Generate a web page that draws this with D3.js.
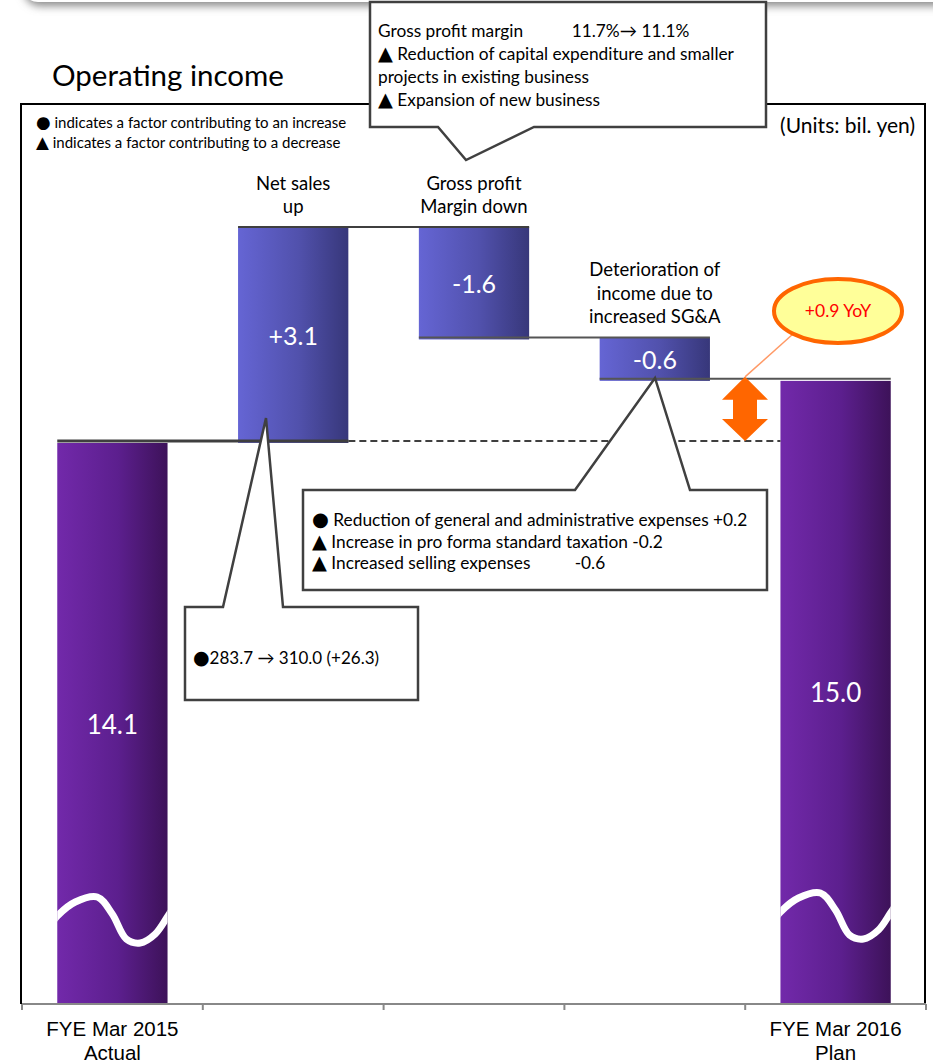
<!DOCTYPE html>
<html>
<head>
<meta charset="utf-8">
<script src="https://cdn.jsdelivr.net/npm/d3@7"></script>
<style>
  body { margin: 0; background: #fff; }
  text { font-family: Lato, 'Open Sans', sans-serif; }
  .sym { font-family: 'DejaVu Sans', sans-serif; }
</style>
</head>
<body>
<div id="grafico"></div>
<script>
const width = 933
const height = 1063

// data
const categories = ['FYE Mar 2015|Actual', 'Net sales|up', 'Gross profit|Margin down', 'Deterioration of|income due to|increased SG&A', 'FYE Mar 2016|Plan']
const values = [14.1, 3.1, -1.6, -0.6, 15.0]
const valueLabels = ['14.1', '+3.1', '-1.6', '-0.6', '15.0']
const isTotal = [true, false, false, false, true]

const legendLines = ['● indicates a factor contributing to an increase', '▲ indicates a factor contributing to a decrease']
const grossNotes = ['Gross profit margin           11.7%→ 11.1%', '▲ Reduction of capital expenditure and smaller', 'projects in existing business', '▲ Expansion of new business']
const salesNotes = ['●283.7 → 310.0 (+26.3)']
const sgaNotes = ['● Reduction of general and administrative expenses +0.2', '▲ Increase in pro forma standard taxation -0.2', '▲ Increased selling expenses          -0.6']
const yoyLabel = '+0.9 YoY'

// waterfall steps
let running = 0
const bars = values.map((v, i) => {
    let start, end
    if (isTotal[i]) { start = null; end = v; running = v }
    else { start = running; end = running + v; running = end }
    return { name: categories[i], value: v, label: valueLabels[i], total: isTotal[i], start: start, end: end, i: i }
})

const axisY = 1004
const x = d3.scaleBand()
            .domain(categories)
            .range([22, 926])
            .paddingInner(0.39)
            .paddingOuter(0.195)

const y = d3.scaleLinear()
            .domain([values[0], d3.max(bars, d => Math.max(d.end, d.start || 0))])
            .range([441, 227])

const svg = d3.select('#grafico').append('svg')
              .attr('width', width)
              .attr('height', height)

const defs = svg.append('defs')
const gradStep = defs.append('linearGradient').attr('id', 'gStep')
gradStep.append('stop').attr('offset', '0%').attr('stop-color', '#6565d4')
gradStep.append('stop').attr('offset', '55%').attr('stop-color', '#5151ac')
gradStep.append('stop').attr('offset', '100%').attr('stop-color', '#37377a')
const gradTotal = defs.append('linearGradient').attr('id', 'gTotal')
gradTotal.append('stop').attr('offset', '0%').attr('stop-color', '#7229aa')
gradTotal.append('stop').attr('offset', '55%').attr('stop-color', '#5c1f8e')
gradTotal.append('stop').attr('offset', '100%').attr('stop-color', '#3d1259')
const blur = defs.append('filter').attr('id', 'blur').attr('x', '-10%').attr('y', '-50%').attr('width', '120%').attr('height', '200%')
blur.append('feGaussianBlur').attr('stdDeviation', 4)
defs.selectAll('clipPath')
    .data(bars.filter(d => d.total))
    .enter()
    .append('clipPath')
    .attr('id', d => 'clip' + d.i)
    .append('rect')
    .attr('x', d => x(d.name))
    .attr('y', d => y(d.end))
    .attr('width', x.bandwidth())
    .attr('height', d => axisY - y(d.end))

// writes a line, the leading ● / ▲ in a bigger symbol font
function symLine(sel, s, fs) {
    const first = s.charAt(0)
    if (first === '●' || first === '▲') {
        sel.append('tspan').attr('class', 'sym').style('font-size', (fs * 1.12) + 'px').text(first)
        sel.append('tspan').text(s.slice(1))
    } else {
        sel.text(s)
    }
}

// header shadow at the very top
svg.append('rect')
   .attr('x', 24).attr('y', -40)
   .attr('width', 960).attr('height', 46)
   .attr('rx', 16)
   .attr('fill', '#8a8a8a')
   .attr('filter', 'url(#blur)')
svg.append('rect')
   .attr('x', 22).attr('y', -50)
   .attr('width', 960).attr('height', 52)
   .attr('rx', 16)
   .attr('fill', '#fff')

svg.append('text')
   .attr('x', 52).attr('y', 86)
   .style('font-size', '29.5px')
   .text('Operating income')

// frame
svg.append('path')
   .attr('d', `M21,${axisY} V104 H925 V${axisY}`)
   .attr('fill', 'none')
   .attr('stroke', '#000')
   .attr('stroke-width', 2)

svg.append('g')
   .selectAll('text')
   .data(legendLines)
   .enter()
   .append('text')
   .attr('x', 36)
   .attr('y', (d, i) => 128 + i * 20)
   .style('font-size', '15px')
   .attr('xml:space', 'preserve')
   .each(function(d) { symLine(d3.select(this), d, 15) })

svg.append('text')
   .attr('x', 915).attr('y', 133)
   .attr('text-anchor', 'end')
   .style('font-size', '21px')
   .text('(Units: bil. yen)')

// bars
const bar = svg.append('g')
               .selectAll('g')
               .data(bars)
               .enter()
               .append('g')

bar.append('rect')
   .attr('x', d => x(d.name))
   .attr('y', d => d.total ? y(d.end) + 2 : y(Math.max(d.start, d.end)))
   .attr('width', x.bandwidth())
   .attr('height', d => d.total ? axisY - y(d.end) - 2 : Math.abs(y(d.start) - y(d.end)) + 2)
   .style('fill', d => d.total ? 'url(#gTotal)' : 'url(#gStep)')

// axis break waves
const wave = d3.line().curve(d3.curveCatmullRom)
const wavePts = [[-6, 27], [0, 19], [18, 5], [40, 0], [55, 17], [69, 42], [83, 46], [98, 37], [110, 20], [116, 11]]
bar.filter(d => d.total)
   .append('path')
   .attr('clip-path', d => `url(#clip${d.i})`)
   .attr('d', d => wave(wavePts.map(p => [x(d.name) + p[0], axisY - 107 - (d.i ? 4 : 0) + p[1]])))
   .attr('fill', 'none')
   .attr('stroke', '#fff')
   .attr('stroke-width', 7)

bar.append('text')
   .attr('x', d => x(d.name) + x.bandwidth() / 2)
   .attr('y', d => d.total ? (y(d.end) + axisY) / 2 + 11 : (y(d.start) + y(d.end)) / 2 + 11)
   .attr('text-anchor', 'middle')
   .style('fill', '#fff')
   .style('font-size', d => d.total ? '26px' : '25px')
   .text(d => d.label)

// step labels above the bars
bar.filter(d => !d.total)
   .append('text')
   .attr('text-anchor', 'middle')
   .style('font-size', '18.5px')
   .selectAll('tspan')
   .data(d => d.name.split('|').map((s, k, arr) => ({ s: s, k: k, n: arr.length, d: d })))
   .enter()
   .append('tspan')
   .attr('x', t => x(t.d.name) + x.bandwidth() / 2)
   .attr('y', t => y(Math.max(t.d.start, t.d.end)) - 14 - (t.n - 1 - t.k) * 23.5)
   .text(t => t.s)

// connectors
const conn = bars.slice(0, -1).map((d, i) => ({ from: d, to: bars[i + 1], level: d.end }))
svg.append('g')
   .selectAll('line')
   .data(conn)
   .enter()
   .append('line')
   .attr('x1', d => x(d.from.name))
   .attr('x2', d => x(d.to.name) + x.bandwidth())
   .attr('y1', d => y(d.level))
   .attr('y2', d => y(d.level))
   .attr('stroke', (d, i) => i === 0 || i === 1 ? '#3f3f3f' : '#555')
   .attr('stroke-width', (d, i) => i === 0 ? 3 : 2)

svg.append('line')
   .attr('x1', x(categories[1]) + x.bandwidth())
   .attr('x2', x(categories[4]))
   .attr('y1', y(values[0]))
   .attr('y2', y(values[0]))
   .attr('stroke', '#3f3f3f')
   .attr('stroke-width', 2)
   .attr('stroke-dasharray', '7,4')

// axis
const ticks = d3.range(categories.length + 1).map(k => 22 + k * x.step())
svg.append('line')
   .attr('x1', 22).attr('x2', 926)
   .attr('y1', axisY).attr('y2', axisY)
   .attr('stroke', '#888')
   .attr('stroke-width', 2)
svg.append('g')
   .selectAll('line')
   .data(ticks)
   .enter()
   .append('line')
   .attr('x1', d => d).attr('x2', d => d)
   .attr('y1', axisY).attr('y2', axisY + 6)
   .attr('stroke', '#888')
   .attr('stroke-width', 2)

svg.append('g')
   .selectAll('text')
   .data(bars.filter(d => d.total))
   .enter()
   .append('text')
   .attr('text-anchor', 'middle')
   .style('font-family', "'Liberation Sans', Arial, sans-serif")
   .style('font-size', '20.5px')
   .selectAll('tspan')
   .data(d => d.name.split('|').map((s, k) => ({ s: s, k: k, d: d })))
   .enter()
   .append('tspan')
   .attr('x', t => x(t.d.name) + x.bandwidth() / 2)
   .attr('y', t => axisY + 32 + t.k * 24)
   .text(t => t.s)

// YoY marker: double arrow between the two totals
const ax = 745
const yTop = y(values[4]) - 2
const yBot = y(values[0])
svg.append('path')
   .attr('d', `M${ax},${yTop} L${ax + 23},${yTop + 23} H${ax + 12} V${yBot - 22} H${ax + 23} L${ax},${yBot} L${ax - 23},${yBot - 22} H${ax - 12} V${yTop + 23} H${ax - 23} Z`)
   .attr('fill', '#ff6600')

svg.append('line')
   .attr('x1', ax).attr('y1', yTop)
   .attr('x2', 793).attr('y2', 334)
   .attr('stroke', '#ff9966')
   .attr('stroke-width', 1.5)

svg.append('ellipse')
   .attr('cx', 838).attr('cy', 311)
   .attr('rx', 64).attr('ry', 32)
   .attr('fill', '#ffff99')
   .attr('stroke', '#ff6600')
   .attr('stroke-width', 4)

svg.append('text')
   .attr('x', 838).attr('y', 317)
   .attr('text-anchor', 'middle')
   .style('fill', '#ff0000')
   .style('font-size', '17.5px')
   .text(yoyLabel)

// callouts
const callouts = [
    { d: 'M370,2 H766 V127 H534 L466,160 L438,127 H370 Z', lines: grossNotes, tx: 378, ty: 37, lh: 23, fs: 17.3 },
    { d: 'M185,607 H223 L266,418 L283,607 H418 V700 H185 Z', lines: salesNotes, tx: 193, ty: 664, lh: 21, fs: 17 },
    { d: 'M303,490 H575 L655,378 L690,490 H767 V590 H303 Z', lines: sgaNotes, tx: 312, ty: 526, lh: 21.5, fs: 17.3 }
]

const callout = svg.append('g')
                   .selectAll('g')
                   .data(callouts)
                   .enter()
                   .append('g')

callout.append('path')
       .attr('d', d => d.d)
       .attr('fill', '#fff')
       .attr('stroke', '#404040')
       .attr('stroke-width', 2.5)
       .attr('stroke-linejoin', 'miter')

callout.each(function(c) {
    const g = d3.select(this)
    c.lines.forEach((s, k) => {
        const t = g.append('text')
                   .attr('x', c.tx)
                   .attr('y', c.ty + k * c.lh)
                   .attr('xml:space', 'preserve')
                   .style('white-space', 'pre')
                   .style('font-size', c.fs + 'px')
        symLine(t, s, c.fs)
    })
})
</script>
</body>
</html>
